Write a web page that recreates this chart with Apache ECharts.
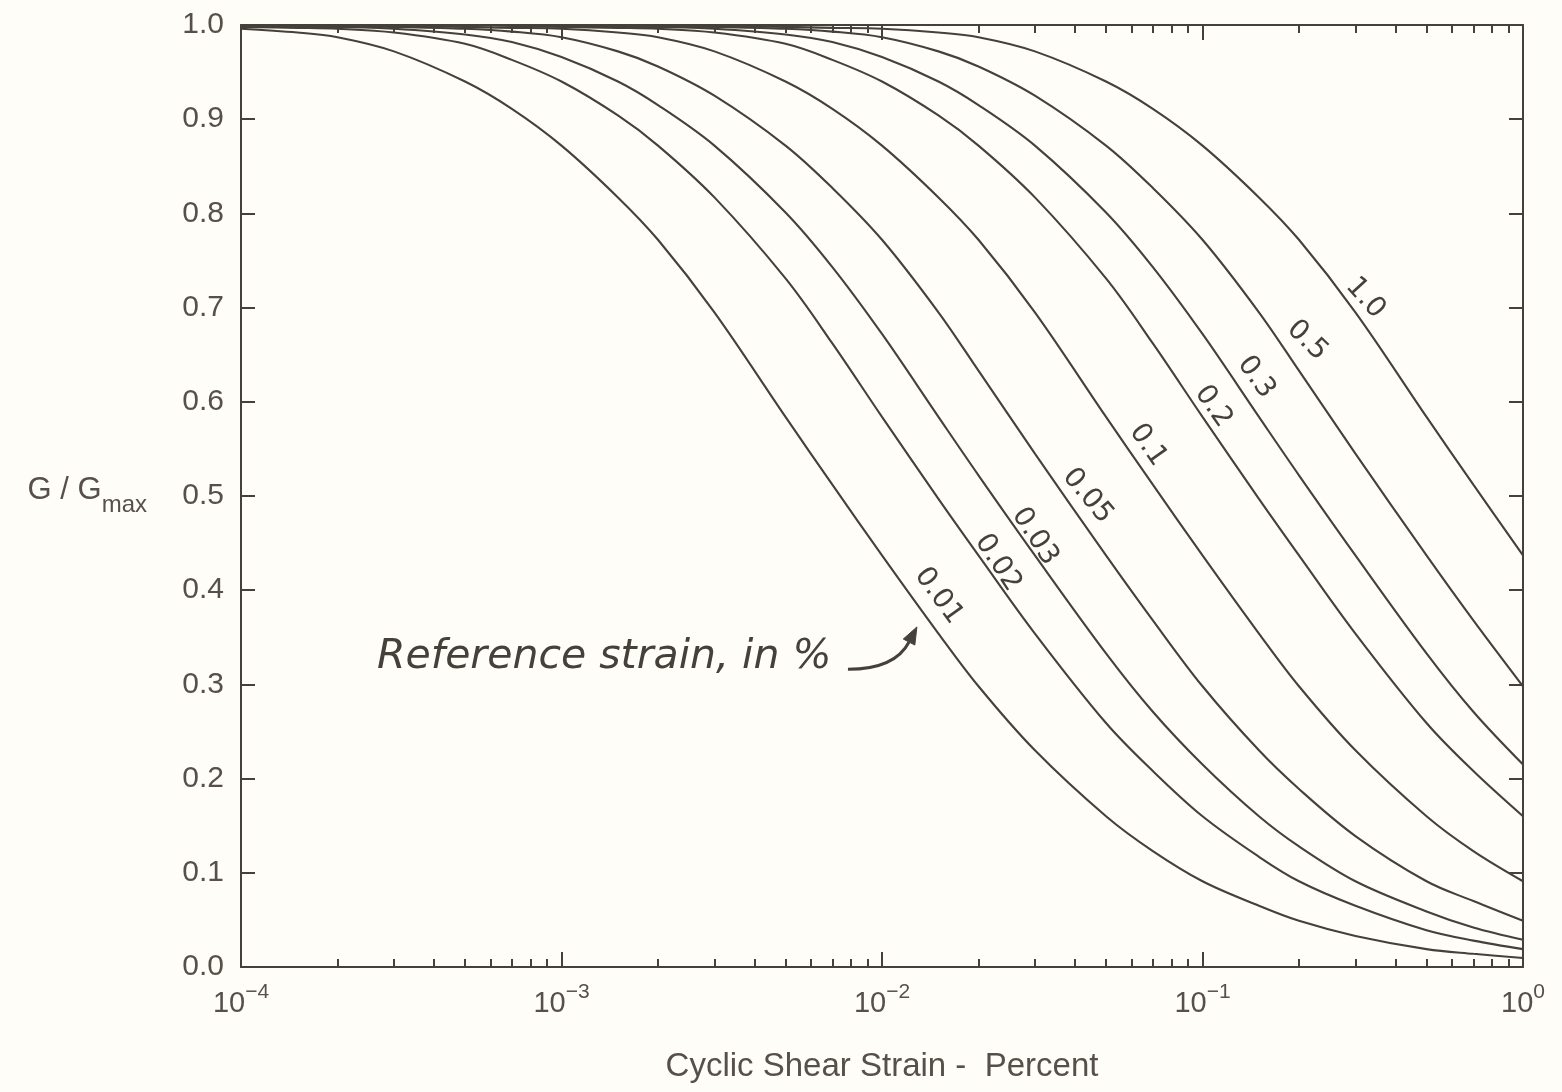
<!DOCTYPE html>
<html>
<head>
<meta charset="utf-8">
<title>G/Gmax modulus reduction curves</title>
<script src="https://cdn.jsdelivr.net/npm/echarts@6/dist/echarts.min.js"></script>
<style>
  html, body { margin: 0; padding: 0; background: #fefdf8; }
  #chart { width: 1562px; height: 1092px; }
</style>
</head>
<body>
<div id="chart"></div>
<script>
// Cyclic shear strain (%) at which every curve is tabulated
const strain = [
  1e-4, 1.5e-4, 2e-4, 3e-4, 5e-4, 7e-4,
  1e-3, 1.5e-3, 2e-3, 3e-3, 5e-3, 7e-3,
  1e-2, 1.5e-2, 2e-2, 3e-2, 5e-2, 7e-2,
  0.1, 0.15, 0.2, 0.3, 0.5, 0.7,
  1
];

// G / Gmax for each reference strain (in %)
const g_0_01 = [0.996, 0.992, 0.987, 0.972, 0.940, 0.911, 0.872, 0.817, 0.772, 0.695, 0.584, 0.512, 0.437, 0.354, 0.298, 0.230, 0.160, 0.123, 0.091, 0.065, 0.049, 0.033, 0.019, 0.014, 0.0096];
const g_0_02 = [0.998, 0.997, 0.996, 0.992, 0.980, 0.963, 0.940, 0.904, 0.872, 0.817, 0.731, 0.662, 0.584, 0.497, 0.437, 0.354, 0.259, 0.208, 0.160, 0.117, 0.091, 0.065, 0.039, 0.028, 0.019];
const g_0_03 = [0.999, 0.998, 0.998, 0.996, 0.990, 0.982, 0.966, 0.940, 0.915, 0.872, 0.801, 0.743, 0.672, 0.584, 0.522, 0.437, 0.333, 0.271, 0.215, 0.160, 0.128, 0.091, 0.059, 0.042, 0.029];
const g_0_05 = [1.000, 0.999, 0.999, 0.998, 0.996, 0.993, 0.987, 0.972, 0.956, 0.925, 0.872, 0.827, 0.772, 0.695, 0.633, 0.545, 0.437, 0.368, 0.298, 0.230, 0.189, 0.139, 0.091, 0.070, 0.049];
const g_0_1  = [1.000, 1.000, 1.000, 0.999, 0.998, 0.997, 0.996, 0.992, 0.987, 0.972, 0.940, 0.911, 0.872, 0.817, 0.772, 0.695, 0.584, 0.512, 0.437, 0.354, 0.298, 0.230, 0.160, 0.123, 0.091];
const g_0_2  = [1.000, 1.000, 1.000, 1.000, 1.000, 0.999, 0.998, 0.997, 0.996, 0.992, 0.980, 0.963, 0.940, 0.904, 0.872, 0.817, 0.731, 0.662, 0.584, 0.497, 0.437, 0.354, 0.259, 0.208, 0.160];
const g_0_3  = [1.000, 1.000, 1.000, 1.000, 1.000, 1.000, 0.999, 0.998, 0.998, 0.996, 0.990, 0.982, 0.966, 0.940, 0.915, 0.872, 0.801, 0.743, 0.672, 0.584, 0.522, 0.437, 0.333, 0.271, 0.215];
const g_0_5  = [1.000, 1.000, 1.000, 1.000, 1.000, 1.000, 1.000, 0.999, 0.999, 0.998, 0.996, 0.993, 0.987, 0.972, 0.956, 0.925, 0.872, 0.827, 0.772, 0.695, 0.633, 0.545, 0.437, 0.368, 0.298];
const g_1_0  = [1.000, 1.000, 1.000, 1.000, 1.000, 1.000, 1.000, 1.000, 1.000, 0.999, 0.998, 0.997, 0.996, 0.992, 0.987, 0.972, 0.940, 0.911, 0.872, 0.817, 0.772, 0.695, 0.584, 0.512, 0.437];

const referenceStrains = ['0.01', '0.02', '0.03', '0.05', '0.1', '0.2', '0.3', '0.5', '1.0'];
const curveValues = [g_0_01, g_0_02, g_0_03, g_0_05, g_0_1, g_0_2, g_0_3, g_0_5, g_1_0];

// Axis ticks
const decadeTicks = [1e-4, 1e-3, 1e-2, 1e-1, 1];
const yTickLabels = ['0.0', '0.1', '0.2', '0.3', '0.4', '0.5', '0.6', '0.7', '0.8', '0.9', '1.0'];

// Hand-written curve labels: [strain, G/Gmax, slant in degrees]
const labelSpots = [
  [0.01500, 0.394, 54],
  [0.02300, 0.429, 57],
  [0.03000, 0.457, 57],
  [0.04380, 0.500, 50],
  [0.06760, 0.554, 55],
  [0.1080, 0.595, 55],
  [0.1470, 0.626, 54],
  [0.2120, 0.665, 44],
  [0.3220, 0.710, 48]
];

// Note and arrow pointing at the 0.01 curve
const noteText = 'Reference strain, in %';
const noteAnchor = [0.00698, 0.329];
const arrowFrom = [0.00783, 0.316];
const arrowTo = [0.01285, 0.361];

const ink = '#46403a';
const textInk = '#57504a';
const sans = '"Liberation Sans", Arial, Helvetica, sans-serif';
const hand = '"DejaVu Sans", sans-serif';

// minor log ticks 2..9 inside each decade
const minorTicks = [];
for (let d = -4; d < 0; d++) {
  for (let m = 2; m <= 9; m++) minorTicks.push(m * Math.pow(10, d));
}

function decadeLabel(v) {
  const e = Math.round(Math.log10(v));
  const exp = e < 0 ? '\u2212' + (-e) : String(e);
  return '{b|10}{s|' + exp + '}';
}

const logAxisBase = {
  type: 'log', logBase: 10, min: 1e-4, max: 1,
  splitLine: { show: false }, minorSplitLine: { show: false },
  axisLine: { show: true, lineStyle: { color: ink, width: 2 } }
};

const series = referenceStrains.map((name, k) => {
  const s = {
    name: name,
    type: 'line',
    xAxisIndex: 0, yAxisIndex: 0,
    data: strain.map((x, i) => [x, curveValues[k][i]]),
    showSymbol: false,
    smooth: 0.35,
    silent: true,
    lineStyle: { color: ink, width: 2.1 },
    markPoint: {
      silent: true,
      symbol: 'circle', symbolSize: 1,
      itemStyle: { color: 'rgba(0,0,0,0)' },
      emphasis: { disabled: true },
      label: {
        show: true, position: 'inside', formatter: name,
        rotate: -labelSpots[k][2],
        fontFamily: hand, fontSize: 28, color: ink
      },
      data: [{ coord: [labelSpots[k][0], labelSpots[k][1]] }]
    }
  };
  if (k === 0) {
    s.markPoint.data.push({
      coord: noteAnchor,
      label: {
        show: true, position: 'left', distance: 0, rotate: 0,
        formatter: noteText,
        fontFamily: hand, fontStyle: 'italic', fontSize: 41, color: ink
      }
    });
  }
  return s;
});

const chart = echarts.init(document.getElementById('chart'), null, { renderer: 'canvas' });
chart.setOption({
  animation: false,
  backgroundColor: '#fefdf8',
  grid: { left: 241, right: 39, top: 25, bottom: 125 },
  xAxis: [
    Object.assign({}, logAxisBase, {
      position: 'bottom',
      name: 'Cyclic Shear Strain -  Percent',
      nameLocation: 'middle', nameGap: 83,
      nameTextStyle: { fontFamily: sans, fontSize: 33, color: textInk },
      axisTick: { show: true, inside: true, length: 15, customValues: decadeTicks, lineStyle: { color: ink, width: 2 } },
      axisLabel: {
        show: true, margin: 15, customValues: decadeTicks,
        formatter: decadeLabel,
        rich: {
          b: { fontFamily: sans, fontSize: 29, color: textInk, lineHeight: 36, verticalAlign: 'bottom' },
          s: { fontFamily: sans, fontSize: 21, color: textInk, lineHeight: 36, verticalAlign: 'top' }
        }
      }
    }),
    Object.assign({}, logAxisBase, {
      position: 'bottom',
      axisLine: { show: false },
      axisTick: { show: true, inside: true, length: 8, customValues: minorTicks, lineStyle: { color: ink, width: 2 } },
      axisLabel: { show: false }
    }),
    Object.assign({}, logAxisBase, {
      position: 'top',
      axisTick: { show: true, inside: true, length: 15, customValues: decadeTicks, lineStyle: { color: ink, width: 2 } },
      axisLabel: { show: false }
    }),
    Object.assign({}, logAxisBase, {
      position: 'top',
      axisLine: { show: false },
      axisTick: { show: true, inside: true, length: 8, customValues: minorTicks, lineStyle: { color: ink, width: 2 } },
      axisLabel: { show: false }
    })
  ],
  yAxis: [
    {
      type: 'value', position: 'left', min: 0, max: 1, interval: 0.1,
      name: '{a|G / G}{b|max}',
      nameLocation: 'middle', nameRotate: 0, nameGap: 94,
      nameTextStyle: {
        rich: {
          a: { fontFamily: sans, fontSize: 31, color: textInk, lineHeight: 42, verticalAlign: 'top' },
          b: { fontFamily: sans, fontSize: 24, color: textInk, lineHeight: 42, verticalAlign: 'bottom' }
        }
      },
      splitLine: { show: false },
      axisLine: { show: true, lineStyle: { color: ink, width: 2 } },
      axisTick: { show: true, inside: true, length: 14, lineStyle: { color: ink, width: 2 } },
      axisLabel: {
        margin: 17, fontFamily: sans, fontSize: 30, color: textInk,
        formatter: (v) => yTickLabels[Math.round(v * 10)]
      }
    },
    {
      type: 'value', position: 'right', min: 0, max: 1, interval: 0.1,
      splitLine: { show: false },
      axisLine: { show: true, lineStyle: { color: ink, width: 2 } },
      axisTick: { show: true, inside: true, length: 14, lineStyle: { color: ink, width: 2 } },
      axisLabel: { show: false }
    }
  ],
  series: series
});

// Hooked arrow from the note to the 0.01 curve, placed through the chart's own scales
const pA = chart.convertToPixel({ xAxisIndex: 0, yAxisIndex: 0 }, arrowFrom);
const pB = chart.convertToPixel({ xAxisIndex: 0, yAxisIndex: 0 }, arrowTo);
const cp = [pA[0] + 0.68 * (pB[0] - pA[0]), pA[1]];
const dx = pB[0] - cp[0], dy = pB[1] - cp[1];
const len = Math.sqrt(dx * dx + dy * dy);
const ux = dx / len, uy = dy / len;
const headLen = 17, headHalf = 6.5;
const base = [pB[0] - ux * headLen, pB[1] - uy * headLen];
chart.setOption({
  graphic: [
    {
      type: 'bezierCurve', silent: true,
      shape: { x1: pA[0], y1: pA[1], x2: base[0], y2: base[1], cpx1: cp[0], cpy1: cp[1] },
      style: { stroke: ink, lineWidth: 3, fill: null }
    },
    {
      type: 'polygon', silent: true,
      shape: { points: [
        [pB[0], pB[1]],
        [base[0] - uy * headHalf, base[1] + ux * headHalf],
        [base[0] + uy * headHalf, base[1] - ux * headHalf]
      ] },
      style: { fill: ink, stroke: ink, lineWidth: 1 }
    }
  ]
});
</script>
</body>
</html>
